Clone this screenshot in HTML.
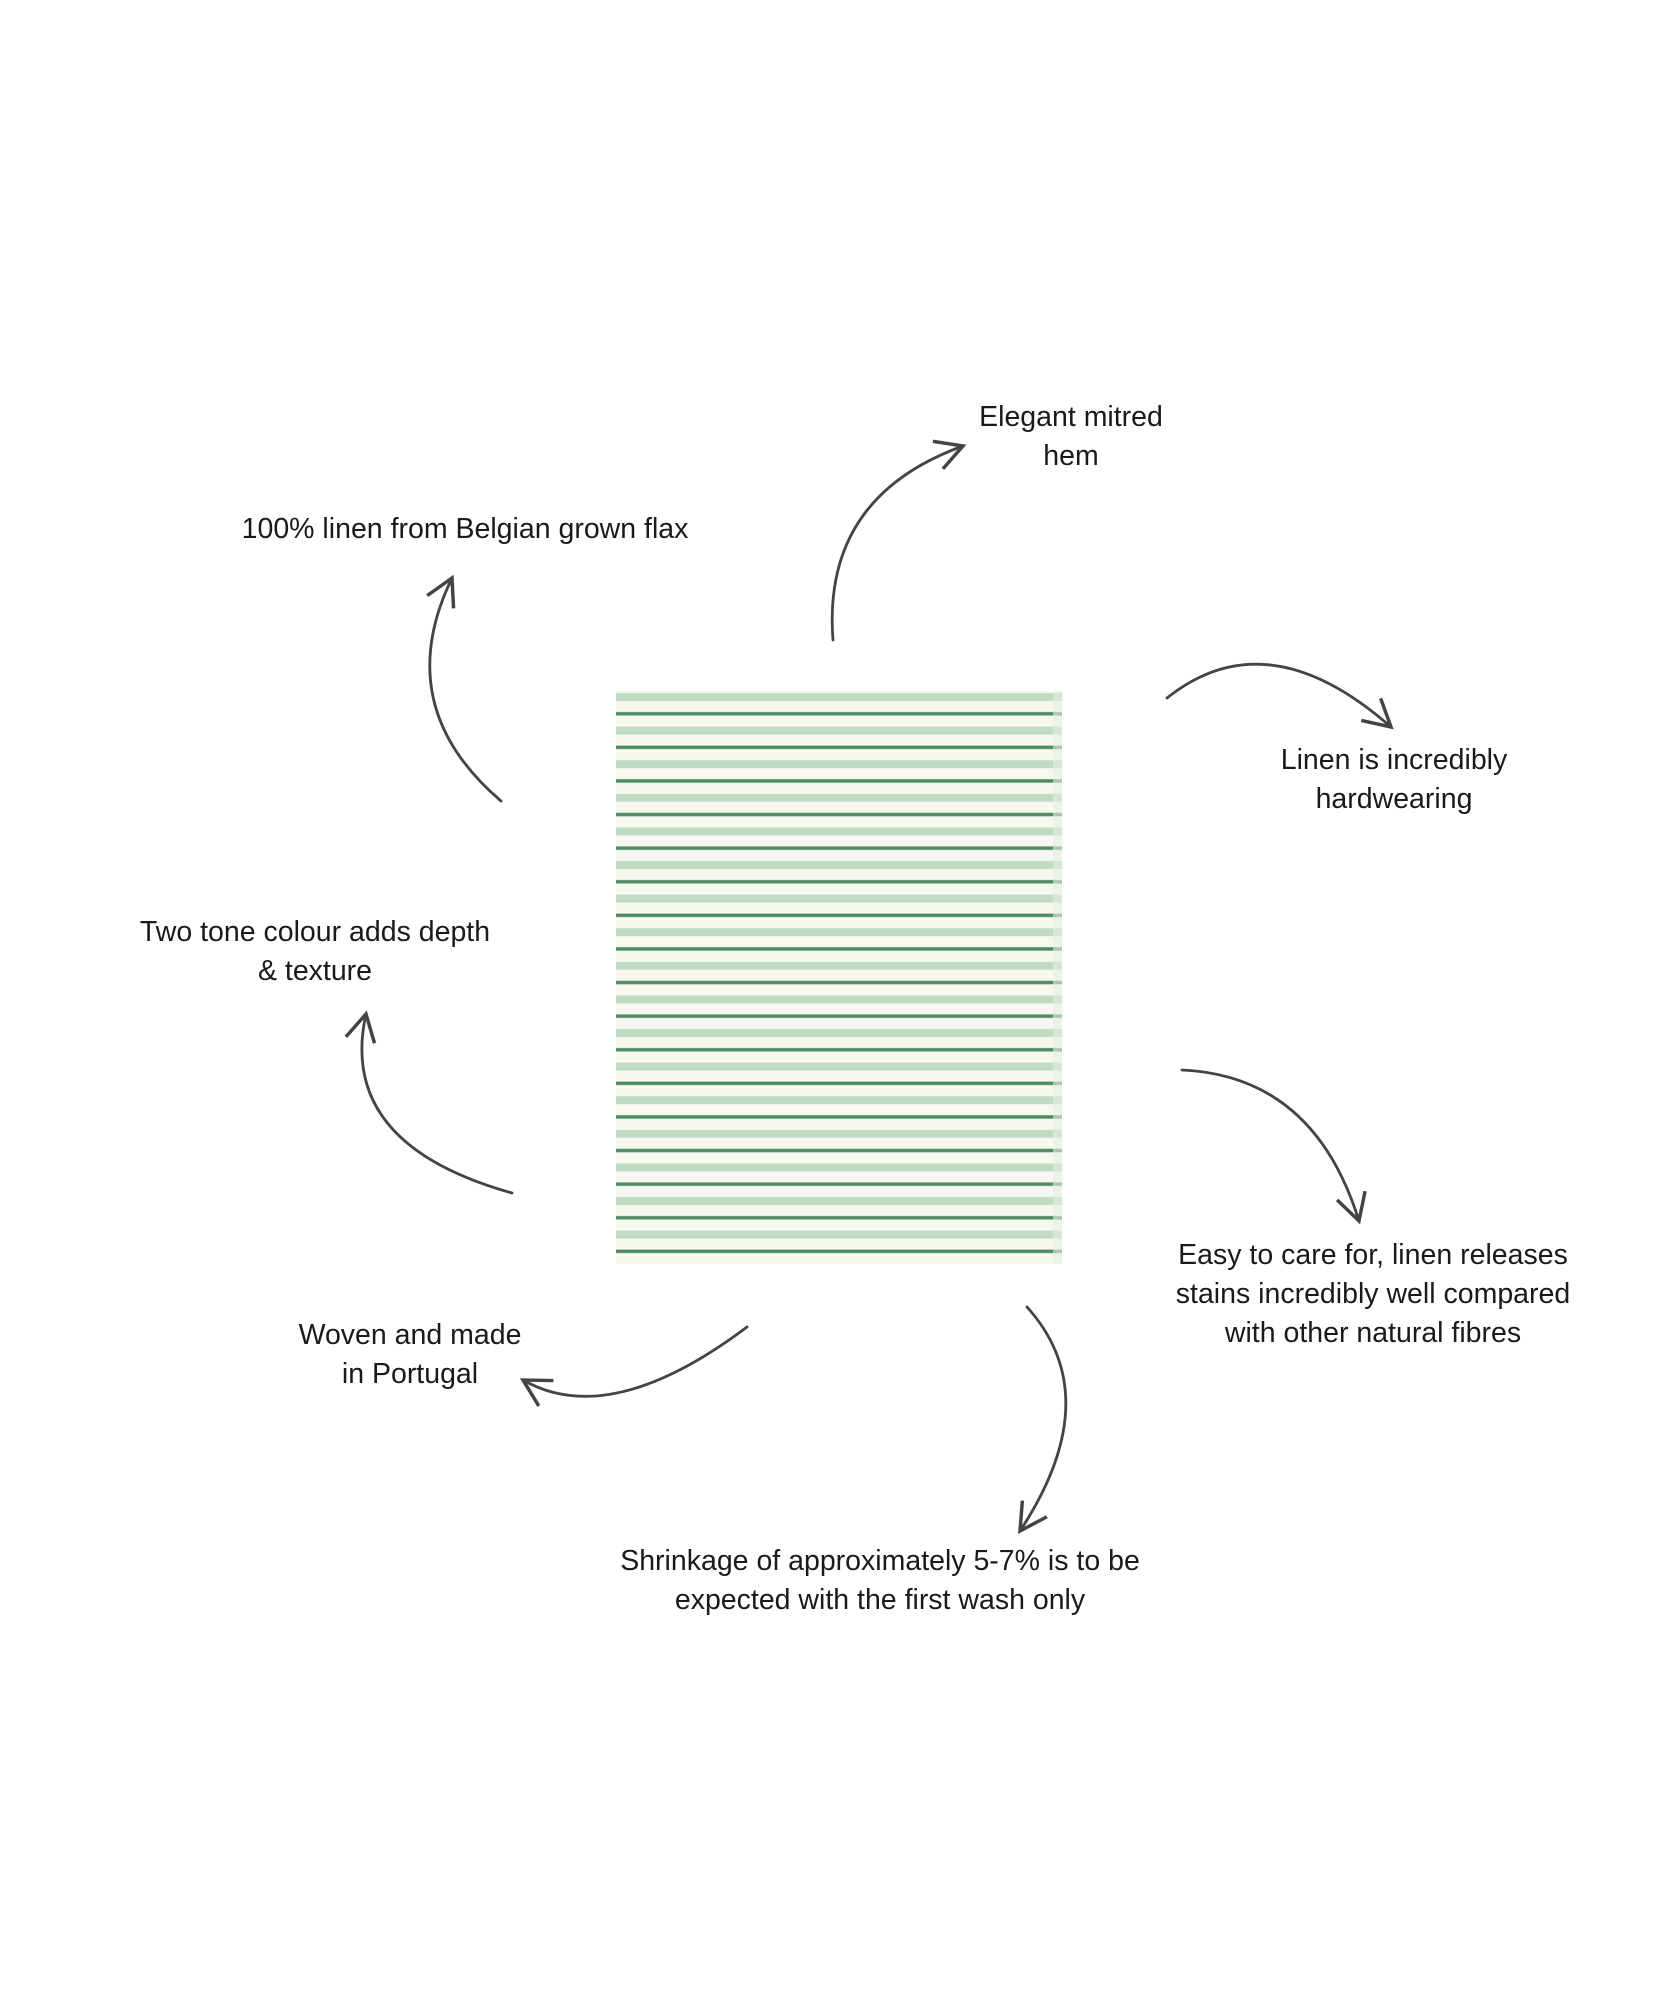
<!DOCTYPE html>
<html><head><meta charset="utf-8"><style>
html,body{margin:0;padding:0;background:#fff}
body{width:1680px;height:2016px;position:relative;overflow:hidden;font-family:"Liberation Sans",sans-serif;color:#1a1a1a}
.t{position:absolute;font-size:28.5px;line-height:39px;text-align:center;white-space:nowrap;transform:translateX(-50%)}
</style></head><body>
<svg width="1680" height="2016" style="position:absolute;left:0;top:0">
<defs>
<marker id="ah" markerUnits="userSpaceOnUse" markerWidth="40" markerHeight="40" refX="0" refY="0" viewBox="-25 -15 30 30" orient="auto">
<path d="M-20 -11 L0 0 L-20 11" fill="none" stroke="#444" stroke-width="2.6"/>
</marker>
<pattern id="st" x="0" y="697" width="10" height="33.6" patternUnits="userSpaceOnUse">
<rect x="0" y="-4" width="10" height="8" fill="#c0dbc2"/>
<rect x="0" y="29.6" width="10" height="8" fill="#c0dbc2"/>
<rect x="0" y="15" width="10" height="3.5" fill="#4f8c64"/>
</pattern>
</defs>
<rect x="616" y="691" width="446" height="573" fill="#f7f9f1"/>
<rect x="616" y="691" width="446" height="573" fill="url(#st)"/>
<rect x="1053" y="691" width="9" height="573" fill="#e6efe0" opacity="0.6"/>
<g fill="none" stroke="#444" stroke-width="2.8" stroke-linecap="round" marker-end="url(#ah)">
<path d="M833 640 Q822 497 963 446"/>
<path d="M501 801 Q390 706 452 578"/>
<path d="M1167 698 Q1267 618 1391 727"/>
<path d="M512 1193 Q337 1144 366 1014"/>
<path d="M1182 1070 Q1314 1076 1359 1221"/>
<path d="M747 1327 Q610 1430 523 1380"/>
<path d="M1027 1307 Q1108 1397 1020 1531"/>
</g>
</svg>
<div class="t" style="left:1071px;top:398px">Elegant mitred<br>hem</div>
<div class="t" style="left:465px;top:510px">100% linen from Belgian grown flax</div>
<div class="t" style="left:1394px;top:741px">Linen is incredibly<br>hardwearing</div>
<div class="t" style="left:315px;top:913px">Two tone colour adds depth<br>&amp; texture</div>
<div class="t" style="left:1373px;top:1236px">Easy to care for, linen releases<br>stains incredibly well compared<br>with other natural fibres</div>
<div class="t" style="left:410px;top:1316px">Woven and made<br>in Portugal</div>
<div class="t" style="left:880px;top:1542px">Shrinkage of approximately 5-7% is to be<br>expected with the first wash only</div>
</body></html>
